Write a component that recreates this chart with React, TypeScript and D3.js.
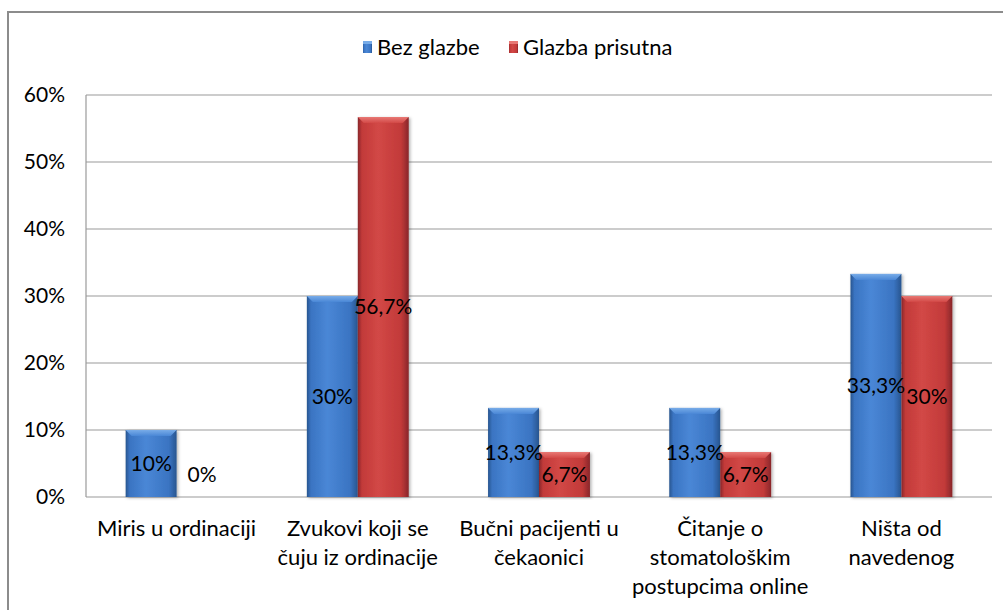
import { useMemo } from 'react'
import * as d3 from 'd3'

const categories: string[][] = [
  ['Miris u ordinaciji'],
  ['Zvukovi koji se', 'čuju iz ordinacije'],
  ['Bučni pacijenti u', 'čekaonici'],
  ['Čitanje o', 'stomatološkim', 'postupcima online'],
  ['Ništa od', 'navedenog'],
]
const seriesNames = ['Bez glazbe', 'Glazba prisutna']
const bezGlazbe = [10, 30, 13.3, 13.3, 33.3]
const glazbaPrisutna = [0, 56.7, 6.7, 6.7, 30]
const yTicks = [0, 10, 20, 30, 40, 50, 60]

const W = 1003
const H = 610
const M = { l: 86, r: 11, t: 95, b: 113 }
const FONT = 'Lato, "Open Sans", sans-serif'

const PALETTE = [
  { id: 'blue', dark: '#28558f', mid: '#3a74c2', light: '#4a87d6', top: '#78ace8' },
  { id: 'red', dark: '#88262a', mid: '#c23a39', light: '#d24846', top: '#e87874' },
]

function fmt(v: number): string {
  return String(v).replace('.', ',') + '%'
}

export default function App() {
  const innerW = W - M.l - M.r
  const innerH = H - M.t - M.b

  const x0 = useMemo(
    () => d3.scaleBand<number>().domain(d3.range(categories.length)).range([0, innerW]).paddingInner(0.4377).paddingOuter(0.2188),
    [innerW]
  )
  const x1 = useMemo(
    () => d3.scaleBand<number>().domain([0, 1]).range([0, x0.bandwidth()]),
    [x0]
  )
  const y = useMemo(() => d3.scaleLinear().domain([0, 60]).range([innerH, 0]), [innerH])

  const series = [bezGlazbe, glazbaPrisutna]
  const bw = x1.bandwidth()
  const bev = 6

  return (
    <div style={{ position: 'absolute', left: 0, top: 0 }}>
      <svg width={W} height={H} style={{ display: 'block', fontFamily: FONT }}>
        <defs>
          {PALETTE.map(p => (
            <g key={p.id}>
              <linearGradient id={`g-${p.id}`} x1="0" x2="1" y1="0" y2="0">
                <stop offset="0" stopColor={p.dark} />
                <stop offset="0.08" stopColor={p.mid} />
                <stop offset="0.4" stopColor={p.light} />
                <stop offset="0.85" stopColor={p.mid} />
                <stop offset="1" stopColor={p.dark} />
              </linearGradient>
              <linearGradient id={`t-${p.id}`} x1="0" x2="0" y1="0" y2="1">
                <stop offset="0" stopColor={p.top} />
                <stop offset="1" stopColor={p.light} />
              </linearGradient>
            </g>
          ))}
          <filter id="shadow" x="-20%" y="-5%" width="140%" height="110%">
            <feDropShadow dx="1.5" dy="1" stdDeviation="1.5" floodColor="#000" floodOpacity="0.3" />
          </filter>
        </defs>

        <rect x={8} y={12} width={1010} height={700} fill="#fff" stroke="#8c8c8c" strokeWidth={2} />

        {/* legend */}
        <g transform="translate(0,47)" fontSize={22}>
          {seriesNames.map((name, i) => {
            const lx = i === 0 ? 363 : 509
            const p = PALETTE[i]
            return (
              <g key={name} transform={`translate(${lx},0)`}>
                <rect x={0} y={-6} width={9} height={12} fill={`url(#g-${p.id})`} />
                <rect x={0} y={-6} width={9} height={3} fill={p.top} />
                <text x={14} dy="0.35em" fill="#000">{name}</text>
              </g>
            )
          })}
        </g>

        <g transform={`translate(${M.l},${M.t})`}>
          {/* gridlines */}
          {yTicks.map(t => (
            <line key={t} x1={0} x2={innerW} y1={y(t)} y2={y(t)} stroke="#9a9a9a" strokeWidth={1.2} />
          ))}
          <line x1={0} x2={0} y1={0} y2={innerH} stroke="#9a9a9a" strokeWidth={1.2} />

          {/* y tick labels */}
          {yTicks.map(t => (
            <text key={t} x={-21} y={y(t)} dy="0.35em" textAnchor="end" fontSize={21} fill="#000">
              {t}%
            </text>
          ))}

          {/* bars */}
          {categories.map((_, ci) => (
            <g key={ci} transform={`translate(${x0(ci)},0)`}>
              {series.map((vals, si) => {
                const v = vals[ci]
                if (v <= 0) return null
                const p = PALETTE[si]
                const bx = x1(si)!
                const by = y(v)
                const bh = innerH - by
                return (
                  <g key={si} filter="url(#shadow)">
                    <rect x={bx} y={by} width={bw} height={bh} fill={`url(#g-${p.id})`} />
                    <polygon
                      points={`${bx},${by} ${bx + bw},${by} ${bx + bw - bev},${by + bev} ${bx + bev},${by + bev}`}
                      fill={`url(#t-${p.id})`}
                    />
                  </g>
                )
              })}
            </g>
          ))}

          {/* value labels */}
          {categories.map((_, ci) =>
            series.map((vals, si) => {
              const v = vals[ci]
              const cx = x0(ci)! + x1(si)! + bw / 2
              const cy = v > 0 ? (y(v) + innerH) / 2 : innerH - 22
              return (
                <text key={`${ci}-${si}`} x={cx} y={cy} dy="0.35em" textAnchor="middle" fontSize={21} fill="#000">
                  {fmt(v)}
                </text>
              )
            })
          )}

          {/* category labels */}
          {categories.map((lines, ci) => (
            <text key={ci} textAnchor="middle" fontSize={22} fill="#000">
              {lines.map((ln, li) => (
                <tspan key={li} x={x0(ci)! + x0.bandwidth() / 2} y={innerH + 31 + li * 29} dy="0.35em">
                  {ln}
                </tspan>
              ))}
            </text>
          ))}
        </g>
      </svg>
    </div>
  )
}
